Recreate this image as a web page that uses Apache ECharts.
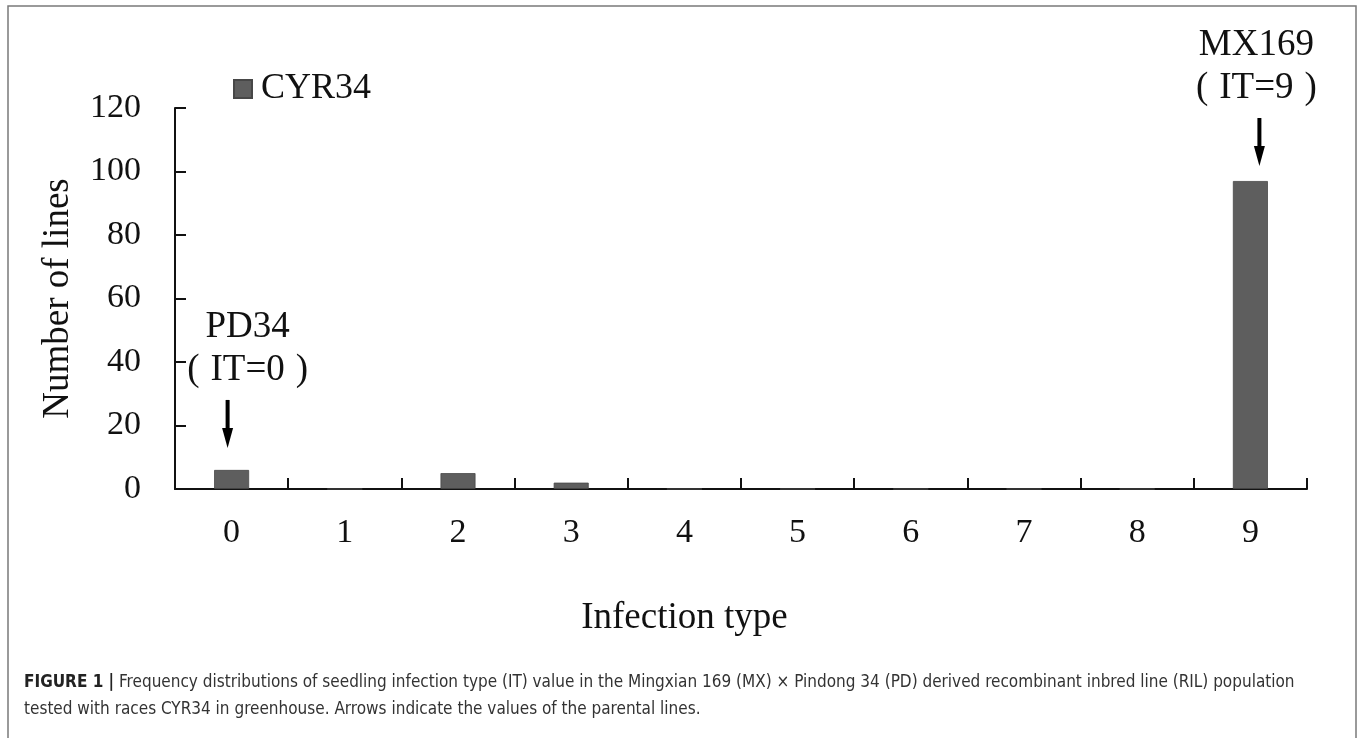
<!DOCTYPE html>
<html>
<head>
<meta charset="utf-8">
<script src="https://cdn.jsdelivr.net/npm/echarts@6/dist/echarts.min.js"></script>
<style>
html,body{margin:0;padding:0;background:#fff;}
#chart{width:1362px;height:738px;}
</style>
</head>
<body>
<div id="chart"></div>
<script>
const categories = ['0','1','2','3','4','5','6','7','8','9'];
const seriesName = 'CYR34';
const counts = [6, 0, 5, 2, 0, 0, 0, 0, 0, 97];
const yTicks = { min: 0, max: 120, interval: 20 };
const xTitle = 'Infection type';
const yTitle = 'Number of lines';
const notes = [
  { cat: 0, line1: 'PD34', inner: 'IT=0' },
  { cat: 9, line1: 'MX169', inner: 'IT=9' }
];
const captionBold = 'FIGURE 1 |';
const captionLine1 = ' Frequency distributions of seedling infection type (IT) value in the Mingxian 169 (MX) × Pindong 34 (PD) derived recombinant inbred line (RIL) population';
const captionLine2 = 'tested with races CYR34 in greenhouse. Arrows indicate the values of the parental lines.';

const SERIF = '"Times New Roman", "Liberation Serif", "Noto Serif", serif';
const CJK = '"Noto Sans CJK SC", "Noto Sans CJK JP", sans-serif';
const SANS = '"Liberation Sans Narrow", "DejaVu Sans Condensed", "Liberation Sans", sans-serif';

const chart = echarts.init(document.getElementById('chart'));
chart.setOption({
  animation: false,
  backgroundColor: '#fff',
  grid: { left: 175, right: 55, top: 108, bottom: 249, outerBoundsMode: 'none' },
  legend: {
    data: [seriesName],
    left: 228, top: 66,
    icon: 'rect', itemWidth: 18, itemHeight: 18, itemGap: 0,
    textStyle: { fontFamily: SERIF, fontSize: 36, color: '#111', padding: [0,0,0,4] }
  },
  xAxis: {
    type: 'category',
    data: categories,
    boundaryGap: true,
    axisLine: { show: true, lineStyle: { color: '#111', width: 2 } },
    axisTick: { show: true, interval: 0, inside: true, length: 11, lineStyle: { color: '#111', width: 2 }, alignWithLabel: false },
    axisLabel: { fontFamily: SERIF, fontSize: 34, color: '#111', margin: 27, interval: 0 },
    splitLine: { show: false }
  },
  yAxis: {
    type: 'value',
    min: yTicks.min, max: yTicks.max, interval: yTicks.interval,
    name: yTitle,
    nameLocation: 'middle',
    nameGap: 98,
    nameTextStyle: { fontFamily: SERIF, fontSize: 37, color: '#111' },
    axisLine: { show: true, lineStyle: { color: '#111', width: 2 } },
    axisTick: { show: true, inside: true, length: 11, lineStyle: { color: '#111', width: 2 } },
    axisLabel: { fontFamily: SERIF, fontSize: 34, color: '#111', margin: 34 },
    splitLine: { show: false }
  },
  series: [{
    name: seriesName,
    type: 'bar',
    data: counts,
    barWidth: 35,
    itemStyle: { color: '#5e5e5e', borderColor: '#474747', borderWidth: 0.8 }
  }]
});

function addGraphics() {
  const els = [];
  // frame
  els.push({ type: 'rect', shape: { x: 8, y: 6, width: 1348, height: 760 },
    style: { fill: null, stroke: '#7a7a7a', lineWidth: 1.5 }, silent: true });
  // x axis title
  const left = chart.convertToPixel({ xAxisIndex: 0 }, 0);
  const step = chart.convertToPixel({ xAxisIndex: 0 }, 1) - left;
  els.push({ type: 'text', x: left + step * 4.0, y: 618,
    style: { text: xTitle, fontFamily: SERIF, fontSize: 37, fill: '#111', align: 'center', verticalAlign: 'middle' } });
  // annotations
  notes.forEach((n, i) => {
    const p = chart.convertToPixel({ seriesIndex: 0 }, [n.cat, counts[n.cat]]);
    const gap = i === 0 ? 22 : 15;
    const dx = i === 0 ? -4 : 9;
    const ax = p[0] + dx;
    const tip = p[1] - gap;
    const top = tip - 48;
    els.push({ type: 'line', shape: { x1: ax, y1: top, x2: ax, y2: tip - 16 },
      style: { stroke: '#000', lineWidth: 4 } });
    els.push({ type: 'polygon', shape: { points: [[ax - 5.5, tip - 20], [ax + 5.5, tip - 20], [ax, tip]] },
      style: { fill: '#000' } });
    const tx = i === 0 ? p[0] + 16 : p[0] + 6;
    els.push({ type: 'text', x: tx, y: top - 73,
      style: { text: n.line1, fontFamily: SERIF, fontSize: 37, fill: '#111', align: 'center', verticalAlign: 'middle' } });
    els.push({ type: 'text', x: tx, y: top - 30,
      style: { text: '{a|(}{t|' + n.inner + '}{b|)}', align: 'center', verticalAlign: 'middle',
        rich: { a: { fontFamily: SERIF, fontSize: 37, fill: '#111', padding: [0, 11, 0, 0] },
                b: { fontFamily: SERIF, fontSize: 37, fill: '#111', padding: [0, 0, 0, 11] },
                t: { fontFamily: SERIF, fontSize: 37, fill: '#111' } } } });
  });
  // caption
  els.push({ type: 'text', x: 24, y: 683,
    style: { rich: { b: { fontWeight: 'bold', fontFamily: SANS, fontSize: 17, fill: '#222' },
                     r: { fontFamily: SANS, fontSize: 17, fill: '#333' } },
             text: '{b|' + captionBold + '}{r|' + captionLine1 + '}', verticalAlign: 'middle' } });
  els.push({ type: 'text', x: 24, y: 710,
    style: { text: captionLine2, fontFamily: SANS, fontSize: 17, fill: '#333', verticalAlign: 'middle' } });
  chart.setOption({ graphic: { elements: els } });
}
addGraphics();
</script>
</body>
</html>
